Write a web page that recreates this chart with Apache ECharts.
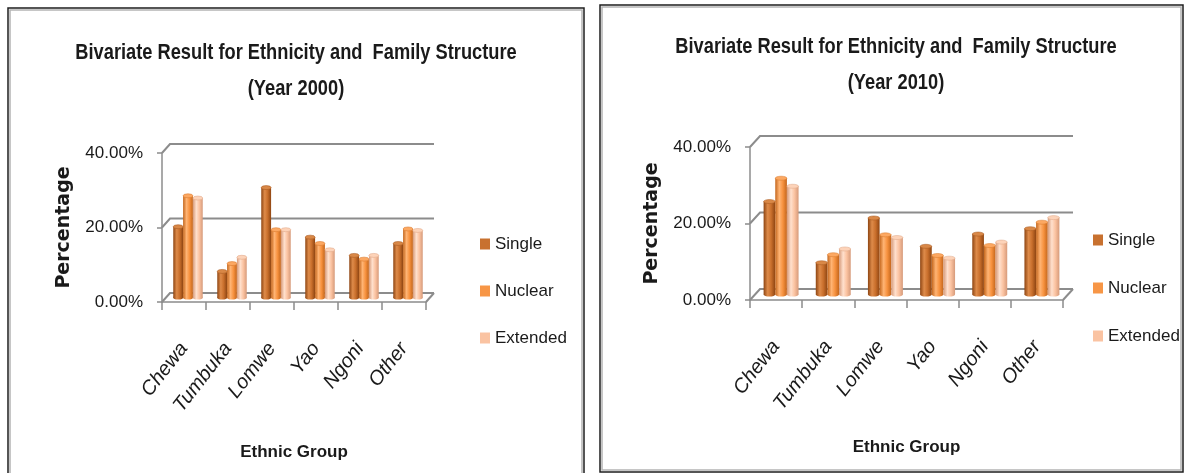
<!DOCTYPE html>
<html>
<head>
<meta charset="utf-8">
<script src="https://cdn.jsdelivr.net/npm/echarts@6/dist/echarts.min.js"></script>
<style>
  html, body { margin: 0; padding: 0; background: #ffffff; }
  #chart { width: 1186px; height: 473px; }
</style>
</head>
<body>
<div id="chart"></div>
<script>
// Ethnic groups on the category axis
const categories = ['Chewa', 'Tumbuka', 'Lomwe', 'Yao', 'Ngoni', 'Other'];
const seriesNames = ['Single', 'Nuclear', 'Extended'];

// Share of each family structure per ethnic group, year 2000
const single2000   = [0.190, 0.070, 0.295, 0.162, 0.113, 0.145];
const nuclear2000  = [0.273, 0.091, 0.182, 0.145, 0.103, 0.184];
const extended2000 = [0.267, 0.108, 0.182, 0.128, 0.113, 0.180];

// Share of each family structure per ethnic group, year 2010
const single2010   = [0.243, 0.083, 0.200, 0.126, 0.158, 0.172];
const nuclear2010  = [0.304, 0.104, 0.156, 0.102, 0.128, 0.189];
const extended2010 = [0.283, 0.119, 0.149, 0.095, 0.137, 0.201];

// Value-axis ticks (fractions, shown as percentages)
const yTicks = [0, 0.2, 0.4];

const titleLine = 'Bivariate Result for Ethnicity and  Family Structure';
const yearLines = ['(Year 2000)', '(Year 2010)'];

const SANS = '"Liberation Sans", Arial, sans-serif';
const FRAME = '#8c8c8c';
const TEXT = '#1a1a1a';

// Cylinder shading for each family structure
const palette = [
  { legend: '#C8712F', edge: '#8E4512', light: '#DE8B4A', mid: '#C96F2C', cap: '#D98847', rim: '#A85A20' },
  { legend: '#F79646', edge: '#C4661C', light: '#FFB474', mid: '#F7923F', cap: '#FCA862', rim: '#D97A2C' },
  { legend: '#FAC3A2', edge: '#D69A7A', light: '#FFE0CD', mid: '#FBC3A1', cap: '#FDD3B9', rim: '#E0A888' }
];

// Depth offset of the back wall for each panel
const depths = [{ dx: 8, dy: -9 }, { dx: 10, dy: -11 }];

function cylinderSeries(name, idx, values, gridIdx) {
  const depth = depths[gridIdx];
  const p = palette[idx];
  return {
    type: 'custom',
    name: name,
    xAxisIndex: gridIdx,
    yAxisIndex: gridIdx,
    itemStyle: { color: p.legend },
    clip: false,
    z: 3,
    data: values.map((v, i) => [i, v]),
    renderItem: function (params, api) {
      const c = api.value(0), v = api.value(1);
      const top = api.coord([c, v]);
      const base = api.coord([c, 0]);
      const band = api.size([1, 0])[0];
      const groupW = band * 0.67;
      const w = groupW / 3;
      const x = top[0] - groupW / 2 + idx * w + depth.dx / 2;
      const yTop = top[1] + depth.dy / 2;
      const yBase = base[1] + depth.dy / 2;
      const r = w / 2;
      const ry = 2;
      const body = new echarts.graphic.LinearGradient(0, 0, 1, 0, [
        { offset: 0, color: p.edge },
        { offset: 0.35, color: p.light },
        { offset: 0.65, color: p.mid },
        { offset: 1, color: p.edge }
      ]);
      return {
        type: 'group',
        children: [
          { type: 'circle', shape: { cx: 0, cy: 0, r: r }, x: x + r, y: yBase, scaleY: ry / r,
            style: { fill: body } },
          { type: 'rect', shape: { x: x, y: yTop, width: w, height: yBase - yTop },
            style: { fill: body } },
          { type: 'circle', shape: { cx: 0, cy: 0, r: r }, x: x + r, y: yTop, scaleY: ry / r,
            style: { fill: p.cap, stroke: p.rim, lineWidth: 0.8, strokeNoScale: true } }
        ]
      };
    }
  };
}

// Back wall gridlines and floor edge of the 3-D frame
function frameSeries(gridIdx) {
  const d = depths[gridIdx];
  return {
    type: 'custom',
    xAxisIndex: gridIdx,
    yAxisIndex: gridIdx,
    silent: true,
    clip: false,
    z: 1,
    data: [[0, 0]],
    renderItem: function (params, api) {
      const band = api.size([1, 0])[0];
      const x0 = api.coord([0, 0])[0] - band / 2;
      const x1 = api.coord([categories.length - 1, 0])[0] + band / 2;
      const children = [];
      yTicks.forEach(function (t) {
        const y = api.coord([0, t])[1];
        children.push({
          type: 'polyline',
          shape: { points: [[x0, y], [x0 + d.dx, y + d.dy], [x1 + d.dx, y + d.dy]] },
          style: { stroke: FRAME, lineWidth: 2, fill: null }
        });
      });
      const yb = api.coord([0, 0])[1];
      children.push({
        type: 'line',
        shape: { x1: x1, y1: yb, x2: x1 + d.dx, y2: yb + d.dy },
        style: { stroke: FRAME, lineWidth: 2 }
      });
      return { type: 'group', children: children };
    }
  };
}

const grids = [
  { left: 162, top: 153, width: 264, height: 149 },
  { left: 750, top: 147, width: 313, height: 153 }
];

function xAxisFor(gridIdx) {
  return {
    type: 'category',
    gridIndex: gridIdx,
    data: categories,
    name: 'Ethnic Group',
    nameLocation: 'middle',
    nameGap: gridIdx === 0 ? 142 : 139,
    nameTextStyle: { fontFamily: SANS, fontWeight: 'bold', fontSize: 17, color: TEXT },
    axisLine: { show: true, lineStyle: { color: FRAME, width: 1.5 } },
    axisTick: { show: true, length: 8, lineStyle: { color: FRAME, width: 1.5 } },
    axisLabel: {
      rotate: 52, margin: 43, interval: 0,
      fontFamily: SANS, fontStyle: 'italic', fontSize: 20, color: TEXT
    },
    splitLine: { show: false }
  };
}

function yAxisFor(gridIdx) {
  return {
    type: 'value',
    gridIndex: gridIdx,
    min: 0, max: 0.4, interval: 0.2,
    name: 'Percentage',
    nameLocation: 'middle',
    nameRotate: 90,
    nameGap: 88,
    nameTextStyle: { fontFamily: '"DejaVu Sans", sans-serif', fontWeight: 'bold', fontSize: 19, color: TEXT },
    axisLine: { show: true, lineStyle: { color: FRAME, width: 1.5 } },
    axisTick: { show: true, length: 5, lineStyle: { color: FRAME, width: 1.5 } },
    axisLabel: {
      margin: 19, fontFamily: SANS, fontSize: 17, color: TEXT,
      formatter: function (v) { return (v * 100).toFixed(2) + '%'; }
    },
    splitLine: { show: false }
  };
}

const legendStyle = { fontFamily: SANS, fontSize: 17, color: TEXT, lineHeight: 20 };

// Two-line panel heading, set in a condensed bold face
function titleText(line, cx, cy) {
  return {
    type: 'text', x: cx, y: cy, scaleX: 0.83, z: 10,
    style: {
      text: line, fill: TEXT, fontFamily: SANS, fontWeight: 'bold', fontSize: 22,
      align: 'center', verticalAlign: 'middle', textAlign: 'center', textVerticalAlign: 'middle'
    }
  };
}

const option = {
  animation: false,
  backgroundColor: '#ffffff',
  legend: [
    { orient: 'vertical', left: 475, top: 229, itemWidth: 10, itemHeight: 11, itemGap: 27,
      icon: 'rect', data: seriesNames, textStyle: legendStyle, selectedMode: false },
    { orient: 'vertical', left: 1088, top: 225, itemWidth: 10, itemHeight: 11, itemGap: 28,
      icon: 'rect', data: seriesNames, textStyle: legendStyle, selectedMode: false }
  ],
  grid: grids,
  xAxis: [xAxisFor(0), xAxisFor(1)],
  yAxis: [yAxisFor(0), yAxisFor(1)],
  graphic: [
    // panel borders: dark outline with a light inner line
    { type: 'rect', shape: { x: 8, y: 8, width: 576, height: 480 }, z: 0,
      style: { fill: null, stroke: '#1e1e1e', lineWidth: 1.5 } },
    { type: 'rect', shape: { x: 10, y: 10, width: 572, height: 476 }, z: 0,
      style: { fill: null, stroke: '#b4b4b4', lineWidth: 1.5 } },
    { type: 'rect', shape: { x: 600, y: 5, width: 583, height: 467 }, z: 0,
      style: { fill: null, stroke: '#1e1e1e', lineWidth: 1.5 } },
    { type: 'rect', shape: { x: 602, y: 7, width: 579, height: 463 }, z: 0,
      style: { fill: null, stroke: '#b4b4b4', lineWidth: 1.5 } },
    titleText(titleLine, 296, 53),
    titleText(yearLines[0], 296, 89),
    titleText(titleLine, 896, 47),
    titleText(yearLines[1], 896, 83)
  ],
  series: [
    frameSeries(0),
    cylinderSeries('Single', 0, single2000, 0),
    cylinderSeries('Nuclear', 1, nuclear2000, 0),
    cylinderSeries('Extended', 2, extended2000, 0),
    frameSeries(1),
    cylinderSeries('Single', 0, single2010, 1),
    cylinderSeries('Nuclear', 1, nuclear2010, 1),
    cylinderSeries('Extended', 2, extended2010, 1)
  ]
};

const chart = echarts.init(document.getElementById('chart'), null, { renderer: 'canvas' });
chart.setOption(option);
</script>
</body>
</html>
